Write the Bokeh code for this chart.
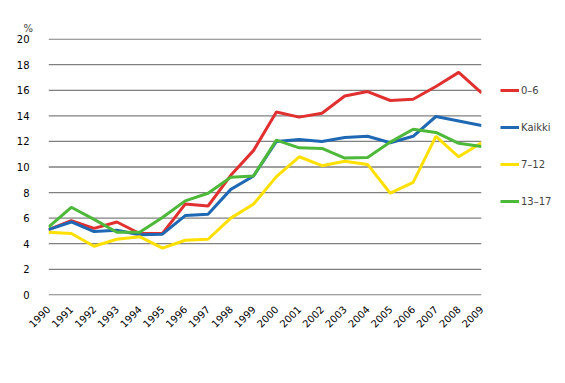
import math
from bokeh.plotting import figure
from bokeh.models import Range1d, FixedTicker, Legend, LegendItem, Title
from bokeh.embed import file_html
from bokeh.resources import INLINE

years = list(range(1990, 2010))
y_ticks = [0, 2, 4, 6, 8, 10, 12, 14, 16, 18, 20]
series_names = ["0\u20136", "Kaikki", "7\u201312", "13\u201317"]

v_0_6 = [5.1, 5.8, 5.2, 5.7, 4.8, 4.8, 7.1, 6.95, 9.35, 11.3, 14.3, 13.9, 14.2, 15.55, 15.9, 15.2, 15.3, 16.3, 17.4, 15.8]
v_kaikki = [5.1, 5.7, 4.95, 5.05, 4.7, 4.75, 6.2, 6.3, 8.25, 9.3, 12.0, 12.15, 12.0, 12.3, 12.4, 11.9, 12.4, 13.95, 13.6, 13.25]
v_7_12 = [4.9, 4.8, 3.8, 4.35, 4.55, 3.65, 4.27, 4.35, 6.0, 7.1, 9.25, 10.8, 10.1, 10.45, 10.2, 7.95, 8.8, 12.4, 10.8, 11.9]
v_13_17 = [5.3, 6.85, 5.9, 4.9, 4.9, 6.05, 7.35, 7.95, 9.2, 9.3, 12.1, 11.5, 11.45, 10.7, 10.75, 11.95, 12.95, 12.7, 11.85, 11.6]

colors = ["#E0302F", "#1F68B4", "#FFE000", "#4DB83A"]

p = figure(width=557, height=375, output_backend="svg", toolbar_location=None,
           x_range=Range1d(1990, 2009), y_range=Range1d(-0.05, 20.05),
           min_border_left=48, min_border_right=76, min_border_top=38, min_border_bottom=80)
p.frame_width = 433
p.frame_height = 257
p.outline_line_color = None
p.background_fill_color = "white"
p.border_fill_color = "white"

p.xaxis.ticker = FixedTicker(ticks=years)
p.yaxis.ticker = FixedTicker(ticks=y_ticks)
p.xgrid.visible = False
p.ygrid.visible = False

# horizontal gridlines at the y tick values, spanning the year range
p.segment(x0=[years[0]] * len(y_ticks), x1=[years[-1]] * len(y_ticks),
          y0=y_ticks, y1=y_ticks, line_color="#808080", line_width=1.3)

for ax in (p.xaxis, p.yaxis):
    ax.axis_line_color = None
    ax.major_tick_line_color = None
    ax.minor_tick_line_color = None
    ax.major_label_text_font = "DejaVu Sans"
    ax.major_label_text_font_size = "10px"
    ax.major_label_text_color = "#000000"
p.xaxis.major_label_orientation = math.pi / 4
p.xaxis.major_label_standoff = 6
p.yaxis.major_label_standoff = 13

renderers = []
for vals, c in zip([v_0_6, v_kaikki, v_7_12, v_13_17], colors):
    r = p.line(years, vals, line_color=c, line_width=3)
    renderers.append(r)

legend = Legend(items=[LegendItem(label=n, renderers=[r]) for n, r in zip(series_names, renderers)],
                location=(19, 87), glyph_width=19, glyph_height=14, label_height=14,
                label_standoff=2, spacing=23, padding=0, margin=0,
                border_line_color=None, background_fill_alpha=0,
                label_text_font="DejaVu Sans", label_text_font_size="10px")
p.add_layout(legend, "right")

p.add_layout(Title(text="%", align="left", offset=-25, text_font="DejaVu Sans",
                   text_font_size="10px", text_font_style="normal"), "above")

open("out.html", "w").write(file_html(p, INLINE))
